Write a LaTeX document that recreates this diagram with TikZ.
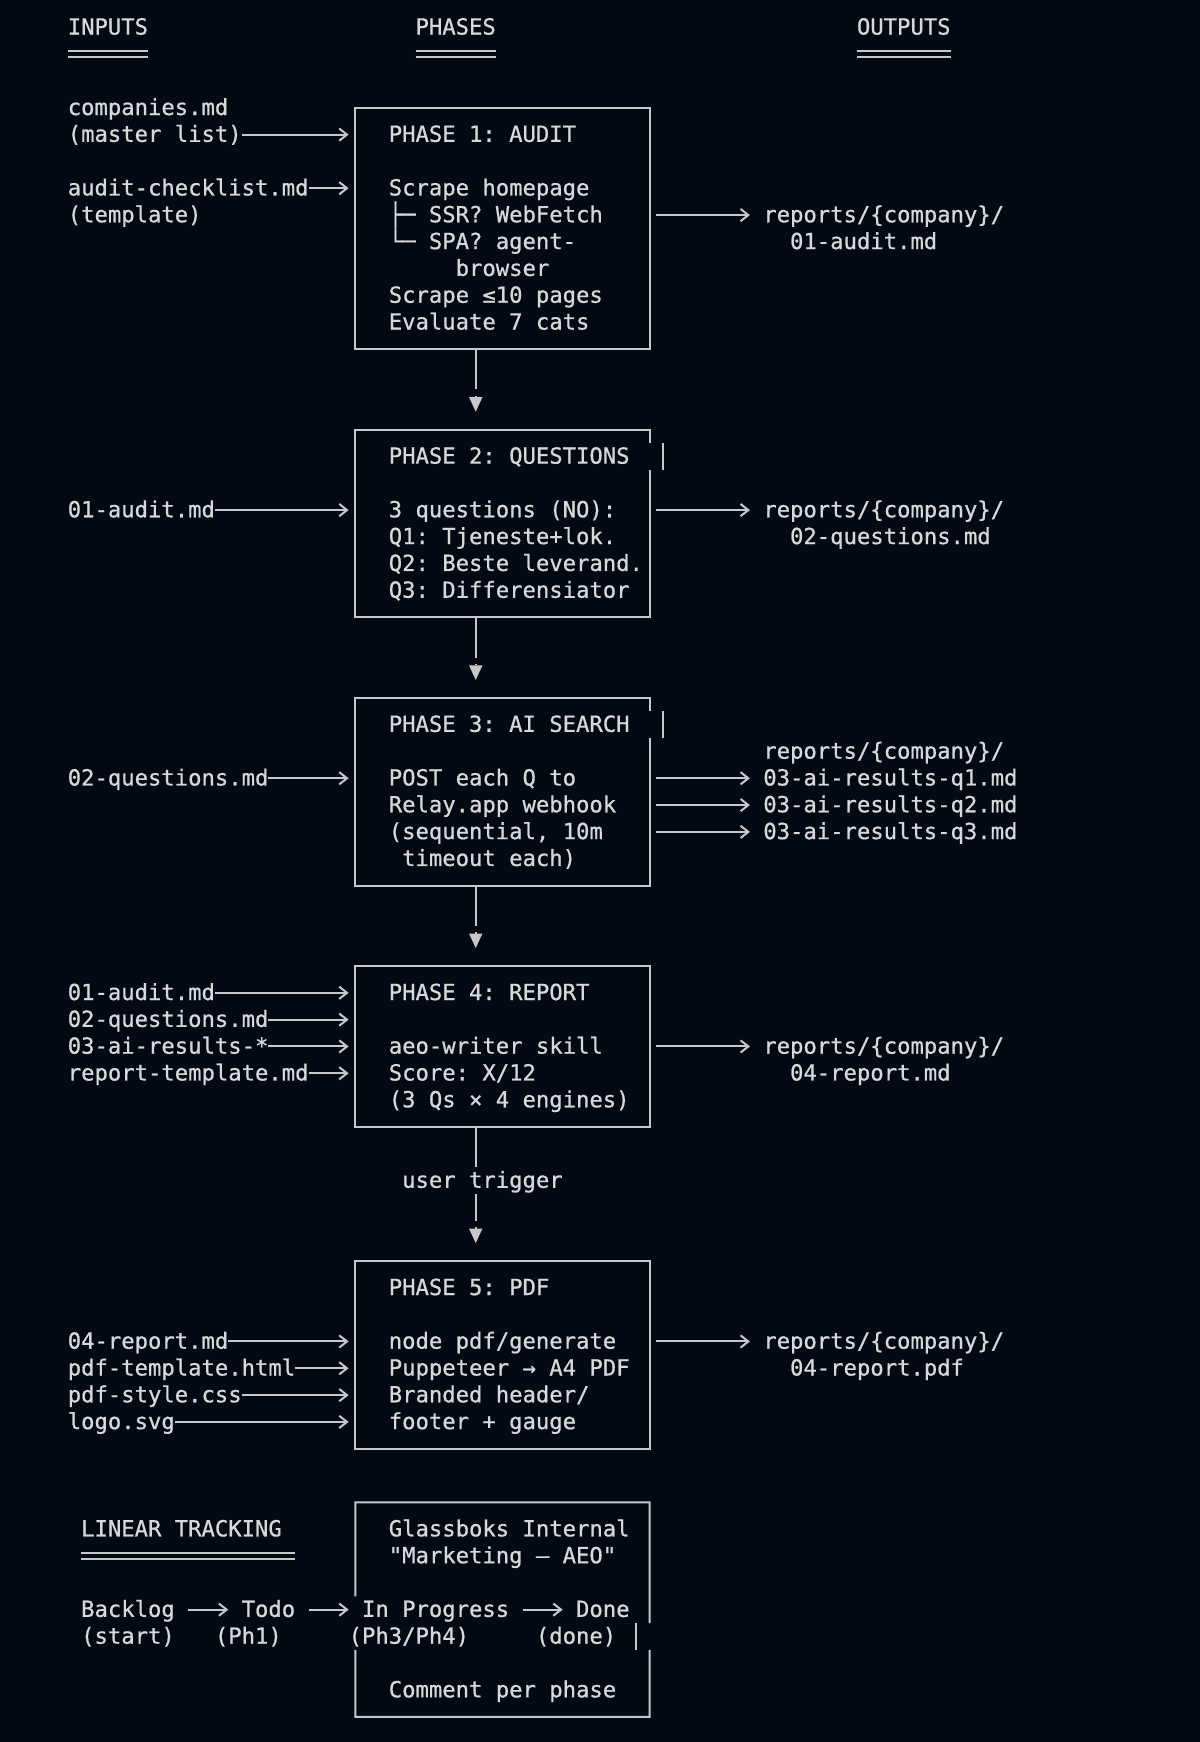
\documentclass[tikz,border=0pt]{standalone}
\usepackage{fontspec}
\newfontfamily\mono{DejaVu Sans Mono}[FakeBold=0.7]
\usetikzlibrary{arrows.meta}
\definecolor{bg}{HTML}{030A14}
\definecolor{fg}{HTML}{D8D8D8}
\definecolor{ln}{HTML}{C8C8C8}
\newcommand\cx[1]{(61+12.04*(#1))}
\newcommand\ry[1]{(24.6+24.14*(#1))}
\newcommand\T[4]{\node[txt] (#1) at ({\cx{#2}},{\ry{#3}}) {#4};}
\newcommand\phasebox[4]{\node[phbox,#4,minimum height={24.14pt*(#3-#2)}] (#1) at (452.3,{(\ry{#2}+\ry{#3})/2}) {};}
\begin{document}
\frenchspacing
\begin{tikzpicture}[x=1pt,y=-1pt,
  txt/.style={anchor=west,inner sep=0pt,outer sep=0pt,text height=17pt,text depth=4pt,
    font=\mono\fontsize{20}{24}\selectfont\frenchspacing,text=fg},
  phbox/.style={inner sep=0pt,outer sep=0pt,minimum width=264.8pt,line width=1.8pt},
  bline/.style={draw=ln,line width=1.8pt},
  dline/.style={draw=ln,line width=1.8pt},
  harrow/.style={draw=ln,line width=1.8pt,-{Straight Barb[length=7pt,width=11pt]}},
  inarrow/.style={harrow,shorten >=6.1pt},
  outarrow/.style={harrow,shorten <=6.1pt,shorten >=12.04pt},
  trarrow/.style={harrow,shorten <=12.04pt,shorten >=12.04pt},
  vline/.style={draw=ln,line width=1.8pt},
  vtip/.style={draw=ln,fill=ln,line width=1.8pt,shorten <=6pt,-{Triangle[width=12pt,length=13pt,line width=0pt]}}
]
\fill[bg] (0,0) rectangle (1080,1568);
\useasboundingbox (0,0) rectangle (1080,1568);

% headers
\T{h1}{0}{0}{INPUTS}
\T{h2}{26}{0}{PHASES}
\T{h3}{59}{0}{OUTPUTS}
\foreach \a/\b in {0/6,26/32,59/66}{
  \draw[dline] ({\cx{\a}},{\ry{1}-2.6}) -- ({\cx{\b}},{\ry{1}-2.6});
  \draw[dline] ({\cx{\a}},{\ry{1}+2.6}) -- ({\cx{\b}},{\ry{1}+2.6});
}

% ---------- phase 1
\phasebox{p1}{3}{12}{draw=ln}
\T{i1a}{0}{3}{companies.md}
\T{i1}{0}{4}{(master list)}
\T{i2}{0}{6}{audit-checklist.md}
\T{i2b}{0}{7}{(template)}
\T{a1}{24}{4}{PHASE 1: AUDIT}
\T{a2}{24}{6}{Scrape homepage}
\T{a3}{24}{7}{├─ SSR? WebFetch}
\T{a4}{24}{8}{└─ SPA? agent-}
\T{a5}{29}{9}{browser}
\T{a6}{24}{10}{Scrape ≤10 pages}
\T{a7}{24}{11}{Evaluate 7 cats}
\T{o1}{52}{7}{reports/\{company\}/}
\T{o1b}{54}{8}{01-audit.md}
\draw[inarrow] (i1.east) -- (p1.west |- i1.east);
\draw[inarrow] (i2.east) -- (p1.west |- i2.east);
\draw[outarrow] (p1.east |- o1.west) -- (o1.west);

% ---------- phase 2
\phasebox{p2}{15}{22}{draw=none}
\coordinate (s2a) at (596.8,{\ry{16}-12.07});
\coordinate (s2b) at (596.8,{\ry{16}+12.07});
\draw[bline] (p2.east |- s2a) -- (p2.north east) -- (p2.north west) -- (p2.south west) -- (p2.south east) -- (p2.east |- s2b);
\draw[bline] (s2a) -- (s2b);
\T{i3}{0}{18}{01-audit.md}
\T{b1}{24}{16}{PHASE 2: QUESTIONS}
\T{b2}{24}{18}{3 questions (NO):}
\T{b3}{24}{19}{Q1: Tjeneste+lok.}
\T{b4}{24}{20}{Q2: Beste leverand.}
\T{b5}{24}{21}{Q3: Differensiator}
\T{o2}{52}{18}{reports/\{company\}/}
\T{o2b}{54}{19}{02-questions.md}
\draw[inarrow] (i3.east) -- (p2.west |- i3.east);
\draw[outarrow] (p2.east |- o2.west) -- (o2.west);

% ---------- phase 3
\phasebox{p3}{25}{32}{draw=none}
\coordinate (s3a) at (596.8,{\ry{26}-12.07});
\coordinate (s3b) at (596.8,{\ry{26}+12.07});
\draw[bline] (p3.east |- s3a) -- (p3.north east) -- (p3.north west) -- (p3.south west) -- (p3.south east) -- (p3.east |- s3b);
\draw[bline] (s3a) -- (s3b);
\T{i4}{0}{28}{02-questions.md}
\T{c1}{24}{26}{PHASE 3: AI SEARCH}
\T{c2}{24}{28}{POST each Q to}
\T{c3}{24}{29}{Relay.app webhook}
\T{c4}{24}{30}{(sequential, 10m}
\T{c5}{25}{31}{timeout each)}
\T{o3}{52}{27}{reports/\{company\}/}
\T{q1}{52}{28}{03-ai-results-q1.md}
\T{q2}{52}{29}{03-ai-results-q2.md}
\T{q3}{52}{30}{03-ai-results-q3.md}
\draw[inarrow] (i4.east) -- (p3.west |- i4.east);
\foreach \q in {q1,q2,q3}{\draw[outarrow] (p3.east |- \q.west) -- (\q.west);}

% ---------- phase 4
\phasebox{p4}{35}{41}{draw=ln}
\T{i5}{0}{36}{01-audit.md}
\T{i6}{0}{37}{02-questions.md}
\T{i7}{0}{38}{03-ai-results-*}
\T{i8}{0}{39}{report-template.md}
\T{d1}{24}{36}{PHASE 4: REPORT}
\T{d2}{24}{38}{aeo-writer skill}
\T{d3}{24}{39}{Score: X/12}
\T{d4}{24}{40}{(3 Qs × 4 engines)}
\T{o4}{52}{38}{reports/\{company\}/}
\T{o4b}{54}{39}{04-report.md}
\foreach \i in {i5,i6,i7,i8}{\draw[inarrow] (\i.east) -- (p4.west |- \i.east);}
\draw[outarrow] (p4.east |- o4.west) -- (o4.west);

% ---------- phase 5
\phasebox{p5}{46}{53}{draw=ln}
\T{i9}{0}{49}{04-report.md}
\T{i10}{0}{50}{pdf-template.html}
\T{i11}{0}{51}{pdf-style.css}
\T{i12}{0}{52}{logo.svg}
\T{e1}{24}{47}{PHASE 5: PDF}
\T{e2}{24}{49}{node pdf/generate}
\T{e3}{24}{50}{Puppeteer → A4 PDF}
\T{e4}{24}{51}{Branded header/}
\T{e5}{24}{52}{footer + gauge}
\T{o5}{52}{49}{reports/\{company\}/}
\T{o5b}{54}{50}{04-report.pdf}
\foreach \i in {i9,i10,i11,i12}{\draw[inarrow] (\i.east) -- (p5.west |- \i.east);}
\draw[outarrow] (p5.east |- o5.west) -- (o5.west);

% ---------- vertical connectors
\coordinate (k1) at (428.2,{\ry{13}+12.07});
\coordinate (t1) at (428.2,{\ry{14}+8});
\draw[vline] (p1.south -| k1) -- (k1);
\draw[vtip] (k1) -- (t1);
\coordinate (k2) at (428.2,{\ry{23}+12.07});
\coordinate (t2) at (428.2,{\ry{24}+8});
\draw[vline] (p2.south -| k2) -- (k2);
\draw[vtip] (k2) -- (t2);
\coordinate (k3) at (428.2,{\ry{33}+12.07});
\coordinate (t3) at (428.2,{\ry{34}+8});
\draw[vline] (p3.south -| k3) -- (k3);
\draw[vtip] (k3) -- (t3);
\T{ut}{25}{43}{user trigger}
\coordinate (k4) at (428.2,{\ry{42}+12.07});
\coordinate (k4b) at (428.2,{\ry{44}-12.07});
\coordinate (k4c) at (428.2,{\ry{44}+12.07});
\coordinate (t4) at (428.2,{\ry{45}+8});
\draw[vline] (p4.south -| k4) -- (k4);
\draw[vline] (k4b) -- (k4c);
\draw[vtip] (k4c) -- (t4);

% ---------- linear tracking
\T{lt}{1}{56}{LINEAR TRACKING}
\draw[dline] ({\cx{1}},{\ry{57}-2.6}) -- ({\cx{17}},{\ry{57}-2.6});
\draw[dline] ({\cx{1}},{\ry{57}+2.6}) -- ({\cx{17}},{\ry{57}+2.6});
\phasebox{p6}{55}{63}{draw=none}
\coordinate (g6a) at (319.9,{\ry{58}+12.07});
\coordinate (g6b) at (319.9,{\ry{60}+12.07});
\coordinate (r6a) at (584.7,{\ry{59}+12.07});
\coordinate (r6b) at (584.7,{\ry{60}+12.07});
\draw[bline] (g6a) -- (p6.north west) -- (p6.north east) -- (r6a);
\draw[bline] (r6b) -- (p6.south east) -- (p6.south west) -- (g6b);
\draw[bline] (572.7,{\ry{59}+12.07}) -- (572.7,{\ry{60}+12.07});
\T{g1}{24}{56}{Glassboks Internal}
\T{g2}{24}{57}{"Marketing – AEO"}
\T{g3}{24}{62}{Comment per phase}
\T{bl}{1}{59}{Backlog}
\T{td}{13}{59}{Todo}
\T{ip}{22}{59}{In Progress}
\T{dn}{38}{59}{Done}
\T{bls}{1}{60}{(start)}
\T{tds}{11}{60}{(Ph1)}
\T{ips}{21}{60}{(Ph3/Ph4)}
\T{dns}{35}{60}{(done)}
\draw[trarrow] (bl.east) -- (td.west);
\draw[trarrow] (td.east) -- (ip.west);
\draw[trarrow] (ip.east) -- (dn.west);
\end{tikzpicture}
\end{document}
